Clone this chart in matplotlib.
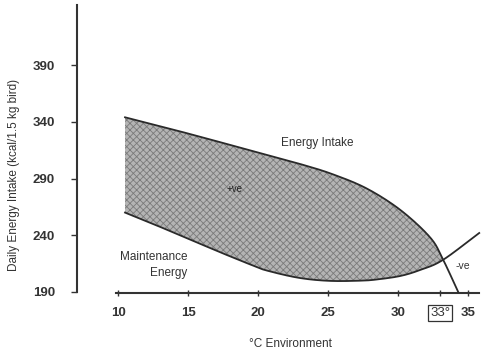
import matplotlib
matplotlib.use("Agg")
import matplotlib.pyplot as plt
import numpy as np

# Data
intake_x = [10.5, 14.3, 19.1, 23.1, 25.4, 27.8, 30.2, 32.3, 33.2, 34.3]
intake_y = [344, 332, 316, 302.5, 293.5, 281, 262, 238, 219, 190]
maint_x = [10.5, 12.5, 15.0, 17.4, 19.6, 20.6, 22.9, 25.1, 27.4, 28.6, 30.2, 31.6, 33.2, 35.8]
maint_y = [260, 250, 237, 224.5, 213.5, 209, 202.5, 199.8, 200, 201.2, 204.2, 209.5, 218.2, 242]
x_ticks = [10, 15, 20, 25, 30, 33, 35]
x_tick_labels = ["10", "15", "20", "25", "30", "33°", "35"]
y_ticks = [190, 240, 290, 340, 390]

plt.rcParams['font.family'] = ['Liberation Sans', 'DejaVu Sans']
plt.rcParams['hatch.linewidth'] = 0.6


def smooth(xp, yp, n=20):
    """Catmull-Rom path through the read points (drawing only)."""
    P = np.column_stack([xp, yp]).astype(float)
    P = np.vstack([2 * P[0] - P[1], P, 2 * P[-1] - P[-2]])
    out = []
    t = np.linspace(0, 1, n, endpoint=False)[:, None]
    for i in range(1, len(P) - 2):
        p0, p1, p2, p3 = P[i - 1], P[i], P[i + 1], P[i + 2]
        seg = 0.5 * ((2 * p1) + (-p0 + p2) * t + (2 * p0 - 5 * p1 + 4 * p2 - p3) * t ** 2
                     + (-p0 + 3 * p1 - 3 * p2 + p3) * t ** 3)
        out.append(seg)
    out.append(P[-2][None, :])
    S = np.vstack(out)
    return S[:, 0], S[:, 1]


W, H = 483, 350
fig = plt.figure(figsize=(W / 100, H / 100), dpi=100)
ax = fig.add_axes([77 / W, 1 - 293 / H, (483 - 77) / W, (293 - 5) / H])
ax.set_xlim(7.07, 36.07)
ax.set_ylim(189.1, 443)

ux, uy = smooth(intake_x, intake_y)
lx, ly = smooth(maint_x, maint_y)

xs = np.linspace(10.5, 33.2, 400)
up = np.interp(xs, ux, uy)
lo = np.interp(xs, lx, ly)
ax.fill_between(xs, lo, up, facecolor='#b4b4b4', edgecolor='#7a7a7a',
                hatch='xxxxx', linewidth=0, zorder=1)

ax.plot(ux, uy, color='#2a2a2a', lw=1.3, zorder=3, clip_on=False)
ax.plot(lx, ly, color='#2a2a2a', lw=1.3, zorder=3, clip_on=False)

for s in ['top', 'right']:
    ax.spines[s].set_visible(False)
ax.spines['left'].set_bounds(190, 443)
ax.spines['bottom'].set_bounds(9.85, 35.8)
for s in ['left', 'bottom']:
    ax.spines[s].set_linewidth(1.5)
    ax.spines[s].set_color('#333333')

ax.set_yticks(y_ticks)
ax.set_yticklabels([str(v) for v in y_ticks])
ax.set_xticks(x_ticks)
ax.set_xticklabels(x_tick_labels)
ax.tick_params(axis='y', direction='out', length=4, width=1, colors='#333333',
               labelsize=9.5, pad=12)
ax.tick_params(axis='x', direction='inout', length=4, width=1, colors='#333333',
               labelsize=9.5, pad=8)
for lab in ax.get_xticklabels() + ax.get_yticklabels():
    lab.set_fontweight('bold')
    lab.set_color('#333333')
box_lab = ax.get_xticklabels()[5]
box_lab.set_bbox(dict(facecolor='none', edgecolor='#333333', linewidth=0.9, pad=1.5))
box_lab.set_fontweight('normal')

ax.set_xlabel('°C Environment', fontsize=8.5, color='#333333')
ax.xaxis.set_label_coords((290 - 77) / (483 - 77), -(338 - 293) / (293 - 5))
ax.set_ylabel('Daily Energy Intake (kcal/1.5 kg bird)', fontsize=8.5, color='#333333')
ax.yaxis.set_label_coords(-(77 - 20) / (483 - 77), (293 - 175) / (293 - 5))

ax.text(24.2, 321, 'Energy Intake', fontsize=8.5, color='#333333', ha='center', va='center')
ax.text(18.3, 281, '+ve', fontsize=7, color='#222222', ha='center', va='center', zorder=4)
ax.text(34.6, 213, '-ve', fontsize=7.5, color='#333333', ha='center', va='center')
ax.text(14.95, 221, 'Maintenance', fontsize=8.5, color='#333333', ha='right', va='center')
ax.text(14.95, 206.7, 'Energy', fontsize=8.5, color='#333333', ha='right', va='center')

fig.savefig('out.png', dpi=100)
